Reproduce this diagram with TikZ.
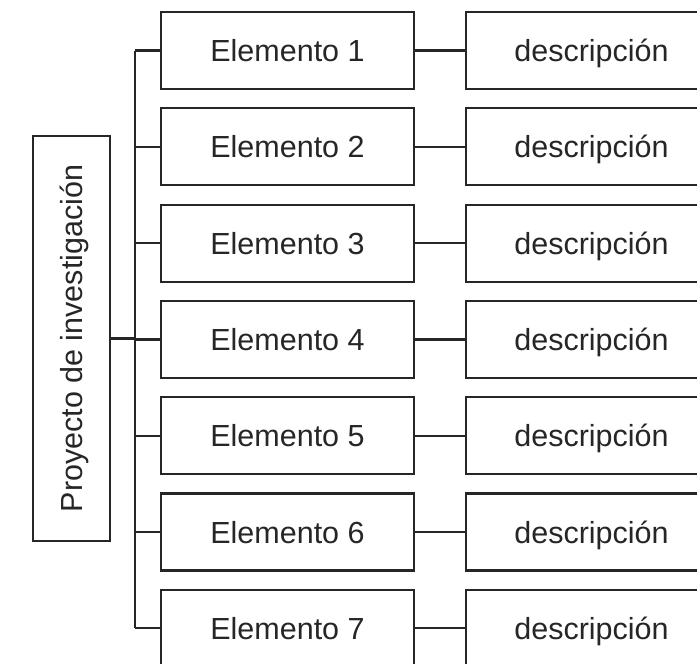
\documentclass[tikz,border=0pt]{standalone}
\usepackage{fontspec}
\setmainfont{Liberation Sans}
\begin{document}
\begin{tikzpicture}[x=1pt,y=-1pt,
  box/.style={draw=black!85, line width=2.2pt, outer sep=0pt, inner sep=0pt,
    font=\fontsize{30.5}{36}\selectfont, text=black!85,
    text height=22pt, text depth=0pt},
  elem/.style={box, minimum width=253pt, minimum height=77pt},
  desc/.style={box, minimum width=251pt, minimum height=77pt},
  link/.style={draw=black!85, line width=2.2pt}]
\useasboundingbox (0,0) rectangle (697,664);
% root box, its label reading upwards
\node[box, rotate=90, minimum width=405pt, minimum height=77pt] (proj) at (71.5,338.5)
  {Proyecto de investigación};
\coordinate (bx) at (135,0);
% element boxes and their descriptions
\foreach \i in {1,...,7}{
  \pgfmathsetmacro{\yy}{50.5+96.3*(\i-1)}
  \node[elem] (e\i) at (287.5,\yy) {Elemento \i};
  \node[desc] (d\i) at (591.5,\yy) {descripción};
  \draw[link] (e\i.east) -- (d\i.west);
  \draw[link] (e\i.west) -- (e\i.west -| bx);
}
% bus linking the root to every element
\draw[link] (e1.west -| bx) -- (e7.west -| bx);
\draw[link] (proj.south) -- (proj.south -| bx);
\end{tikzpicture}
\end{document}
